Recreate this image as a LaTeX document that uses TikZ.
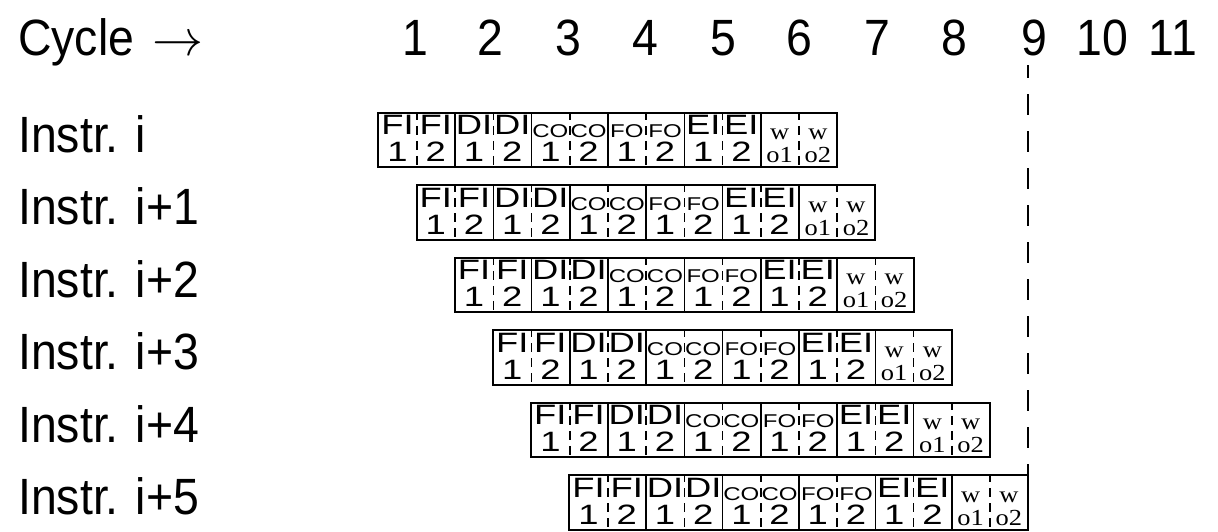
\RequirePackage{fix-cm}
\documentclass[tikz,border=0pt]{standalone}
\usepackage{fontspec}
\setmainfont{Liberation Sans}[FakeStretch=0.91]
\newfontfamily\cellsans{Liberation Sans}[FakeStretch=1.3]
\newfontfamily\cellserif{Liberation Serif}[FakeStretch=1.15]
\usetikzlibrary{calc}
\newcommand\fbig{\cellsans\fontsize{28}{30}\selectfont}
\newcommand\fsmall{\cellsans\fontsize{18.5}{20}\selectfont}
\newcommand\fser{\cellserif\fontsize{23}{24}\selectfont}
\newcommand\flabel{\fontsize{51}{60}\selectfont}
\begin{document}
\begin{tikzpicture}[x=1pt,y=-1pt,
  cellbox/.style={minimum width=38.2pt,minimum height=55pt,inner sep=0pt,draw=none},
  celltext/.style={anchor=base,inner sep=0pt},
  rowbox/.style={draw=black,line width=2pt},
  solidsep/.style={draw=black,line width=1.6pt},
  dashsep/.style={draw=black,line width=1.6pt,dash pattern=on 9pt off 6pt,dash phase=2pt},
  cutline/.style={draw=black,line width=2pt,dash pattern=on 21pt off 16pt,dash phase=8pt},
  biglabel/.style={anchor=base west,inner sep=0pt,font=\flabel},
  cyc/.style={anchor=base,inner sep=0pt,font=\flabel}]
\useasboundingbox (0,0) rectangle (1218,531);
% header
\node[biglabel] (cycle) at (18,55) {Cycle\hspace{0.35em}$\rightarrow$};
\foreach \n/\xx in {1/415,2/490,3/568,4/645,5/723,6/799,7/877,8/954,9/1034,10/1102,11/1173}
  \node[cyc] (n\n) at (\xx,55) {\n};
% row labels
\foreach \k/\t in {0/i,1/i+1,2/i+2,3/i+3,4/i+4,5/i+5}
  \node[biglabel] (lab\k) at (18,{152+72.5*\k}) {Instr. \t};
% rows
\foreach \k in {0,...,5} {
  \foreach [count=\j from 0] \s/\n/\ft/\oy/\fb/\by in
    {FI/1/\fbig/22/\fbig/49, FI/2/\fbig/22/\fbig/49, DI/1/\fbig/22/\fbig/49, DI/2/\fbig/22/\fbig/49,
     CO/1/\fsmall/25/\fbig/49, CO/2/\fsmall/25/\fbig/49, FO/1/\fsmall/25/\fbig/49, FO/2/\fsmall/25/\fbig/49,
     EI/1/\fbig/22/\fbig/49, EI/2/\fbig/22/\fbig/49, w/o1/\fser/27/\fser/50, w/o2/\fser/27/\fser/50} {
    \node[cellbox,minimum height=54pt] (c\k-\j) at ({378.5+38.2*\k+38.2*(\j+0.5)},{113+72.5*\k+27}) {};
    \node[celltext,font=\ft] (ta\k-\j) at ($(c\k-\j.north)+(0,\oy)$) {\s};
    \node[celltext,font=\fb] (tb\k-\j) at ($(c\k-\j.north)+(0,\by)$) {\n};
  }
  \foreach \j in {0,2,4,6,8,10}
    \draw[dashsep] (c\k-\j.north east) -- (c\k-\j.south east);
  \foreach \j in {1,3,5,7,9}
    \draw[solidsep] (c\k-\j.north east) -- (c\k-\j.south east);
  \draw[rowbox] (c\k-0.north west) rectangle (c\k-11.south east);
}
% cut line at cycle 9
\coordinate (cuttop) at (c5-11.north east |- 0,65);
\draw[cutline] (cuttop) -- (c5-11.north east);
\end{tikzpicture}
\end{document}
